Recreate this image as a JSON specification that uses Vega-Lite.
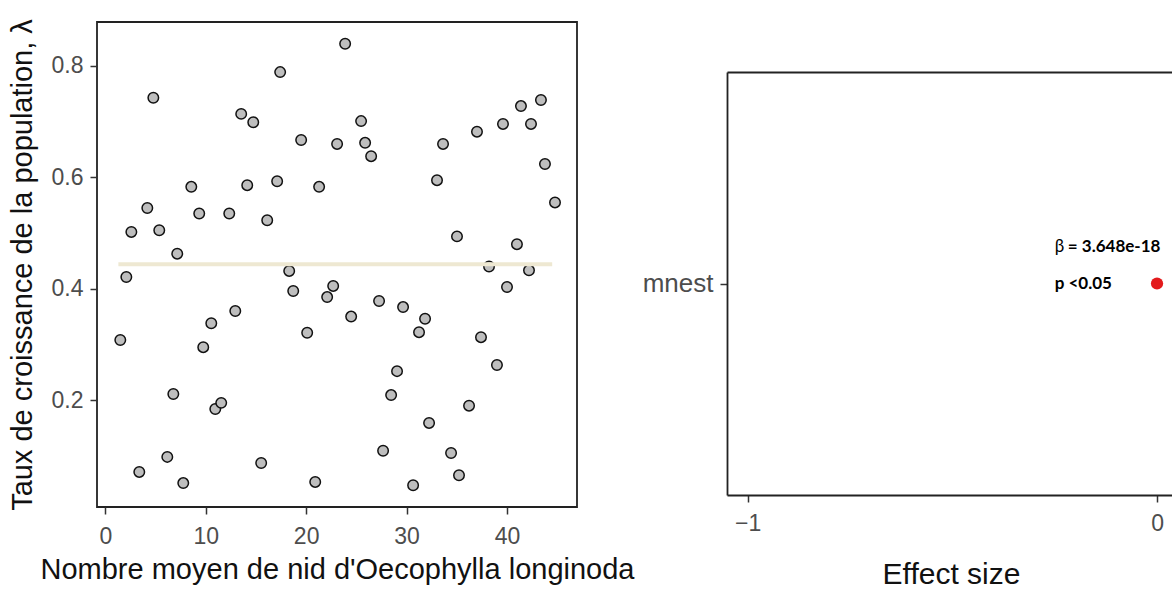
{
  "$schema": "https://vega.github.io/schema/vega-lite/v6.json",
  "padding": {"left": 7, "top": 17, "right": 0, "bottom": 0},
  "background": "white",
  "spacing": 7,
  "config": {
    "font": "Liberation Sans",
    "view": {"stroke": "#222222", "strokeWidth": 1.8},
    "axis": {
      "grid": false,
      "labelFont": "Liberation Sans",
      "titleFont": "Liberation Sans",
      "labelColor": "#4D4D4D",
      "titleColor": "#111111",
      "titleFontWeight": "normal",
      "tickColor": "#333333",
      "tickWidth": 1.5,
      "tickSize": 7,
      "domainColor": "#222222",
      "domainWidth": 1.8,
      "labelFontSize": 23,
      "titleFontSize": 29
    }
  },
  "hconcat": [
    {
      "width": 480,
      "height": 485,
      "layer": [
        {
          "data": {"values": [
            {"nests": 1.49, "lambda": 0.308}, {"nests": 2.09, "lambda": 0.421}, {"nests": 2.59, "lambda": 0.502},
            {"nests": 3.38, "lambda": 0.071}, {"nests": 4.18, "lambda": 0.545}, {"nests": 4.78, "lambda": 0.743},
            {"nests": 5.37, "lambda": 0.505}, {"nests": 6.17, "lambda": 0.098}, {"nests": 6.77, "lambda": 0.211},
            {"nests": 7.16, "lambda": 0.463}, {"nests": 7.76, "lambda": 0.051}, {"nests": 8.56, "lambda": 0.583},
            {"nests": 9.35, "lambda": 0.535}, {"nests": 9.75, "lambda": 0.295}, {"nests": 10.55, "lambda": 0.338},
            {"nests": 10.95, "lambda": 0.184}, {"nests": 11.54, "lambda": 0.195}, {"nests": 12.34, "lambda": 0.535},
            {"nests": 12.94, "lambda": 0.36}, {"nests": 13.53, "lambda": 0.714}, {"nests": 14.13, "lambda": 0.586},
            {"nests": 14.73, "lambda": 0.699}, {"nests": 15.52, "lambda": 0.087}, {"nests": 16.12, "lambda": 0.523},
            {"nests": 17.11, "lambda": 0.593}, {"nests": 17.41, "lambda": 0.789}, {"nests": 18.31, "lambda": 0.432},
            {"nests": 18.71, "lambda": 0.396}, {"nests": 19.5, "lambda": 0.667}, {"nests": 20.1, "lambda": 0.321},
            {"nests": 20.9, "lambda": 0.053}, {"nests": 21.29, "lambda": 0.583}, {"nests": 22.09, "lambda": 0.385},
            {"nests": 22.69, "lambda": 0.405}, {"nests": 23.08, "lambda": 0.66}, {"nests": 23.88, "lambda": 0.84},
            {"nests": 24.48, "lambda": 0.35}, {"nests": 25.47, "lambda": 0.701}, {"nests": 25.87, "lambda": 0.662},
            {"nests": 26.47, "lambda": 0.638}, {"nests": 27.26, "lambda": 0.378}, {"nests": 27.66, "lambda": 0.109},
            {"nests": 28.46, "lambda": 0.209}, {"nests": 29.05, "lambda": 0.252}, {"nests": 29.65, "lambda": 0.367},
            {"nests": 30.65, "lambda": 0.047}, {"nests": 31.24, "lambda": 0.322}, {"nests": 31.84, "lambda": 0.346},
            {"nests": 32.24, "lambda": 0.159}, {"nests": 33.03, "lambda": 0.595}, {"nests": 33.63, "lambda": 0.66},
            {"nests": 34.43, "lambda": 0.105}, {"nests": 35.02, "lambda": 0.494}, {"nests": 35.22, "lambda": 0.065},
            {"nests": 36.22, "lambda": 0.19}, {"nests": 37.01, "lambda": 0.682}, {"nests": 37.41, "lambda": 0.313},
            {"nests": 38.21, "lambda": 0.44}, {"nests": 39.0, "lambda": 0.263}, {"nests": 39.6, "lambda": 0.696},
            {"nests": 40.0, "lambda": 0.403}, {"nests": 40.99, "lambda": 0.48}, {"nests": 41.39, "lambda": 0.728},
            {"nests": 42.19, "lambda": 0.433}, {"nests": 42.39, "lambda": 0.696}, {"nests": 43.38, "lambda": 0.739},
            {"nests": 43.78, "lambda": 0.624}, {"nests": 44.78, "lambda": 0.555}
          ]},
          "mark": {"type": "circle", "fill": "#BEBEBE", "stroke": "#111111", "strokeWidth": 1.5, "opacity": 1, "size": 110},
          "encoding": {
            "x": {
              "field": "nests", "type": "quantitative",
              "scale": {"domain": [-0.83, 46.97], "nice": false, "zero": false},
              "axis": {
                "values": [0, 10, 20, 30, 40],
                "domain": false,
                "labelPadding": 11,
                "titlePadding": 7,
                "title": "Nombre moyen de nid d'Oecophylla longinoda"
              }
            },
            "y": {
              "field": "lambda", "type": "quantitative",
              "scale": {"domain": [0.008, 0.879], "nice": false, "zero": false},
              "axis": {
                "values": [0.2, 0.4, 0.6, 0.8],
                "format": ".1f",
                "domain": false,
                "labelPadding": 7,
                "titlePadding": 14,
                "title": "Taux de croissance de la population, λ"
              }
            }
          }
        },
        {
          "data": {"values": [
            {"nests": 1.3, "lambda": 0.444},
            {"nests": 44.5, "lambda": 0.444}
          ]},
          "mark": {"type": "line", "color": "#EEE8D2", "strokeWidth": 4},
          "encoding": {
            "x": {"field": "nests", "type": "quantitative"},
            "y": {"field": "lambda", "type": "quantitative"}
          }
        }
      ]
    },
    {
      "spacing": 46,
      "vconcat": [
        {
          "width": 445,
          "height": 1,
          "view": {"stroke": null},
          "data": {"values": [{"spacer": 1}]},
          "mark": {"type": "point", "opacity": 0}
        },
        {
          "width": 445,
          "height": 423,
          "view": {"stroke": null},
          "resolve": {"axis": {"x": "independent"}},
          "layer": [
            {
              "data": {"values": [{"term": "mnest", "estimate": 0}]},
              "mark": {"type": "circle", "color": "#E31A1C", "opacity": 1, "size": 150},
              "encoding": {
                "x": {
                  "field": "estimate", "type": "quantitative",
                  "scale": {"domain": [-1.0505, 0.0366], "nice": false, "zero": false},
                  "axis": {
                    "orient": "bottom",
                    "values": [-1, 0],
                    "format": "d",
                    "labelPadding": 10,
                    "titlePadding": 24,
                    "titleFontSize": 30,
                    "titleX": 224,
                    "titleAnchor": null,
                    "titleAlign": "center",
                    "title": "Effect size"
                  }
                },
                "y": {
                  "field": "term", "type": "nominal",
                  "axis": {"title": null, "labelFontSize": 26, "labelPadding": 7}
                }
              }
            },
            {
              "data": {"values": [{"term": "mnest", "estimate": -0.25, "label": "p <0.05"}]},
              "mark": {"type": "text", "align": "left", "baseline": "middle", "font": "Lato", "fontWeight": "bold", "fontSize": 17, "color": "#000000"},
              "encoding": {
                "x": {
                  "field": "estimate", "type": "quantitative",
                  "axis": {"orient": "top", "labels": false, "ticks": false, "title": null}
                },
                "y": {"field": "term", "type": "nominal"},
                "text": {"field": "label"}
              }
            },
            {
              "data": {"values": [{"term": "mnest", "estimate": -0.25, "label": "β"}]},
              "mark": {"type": "text", "align": "left", "baseline": "middle", "font": "Lato", "fontWeight": "normal", "fontSize": 17, "color": "#000000", "dy": -37},
              "encoding": {
                "x": {"field": "estimate", "type": "quantitative", "axis": null},
                "y": {"field": "term", "type": "nominal"},
                "text": {"field": "label"}
              }
            },
            {
              "data": {"values": [{"term": "mnest", "estimate": -0.218, "label": "= 3.648e-18"}]},
              "mark": {"type": "text", "align": "left", "baseline": "middle", "font": "Lato", "fontWeight": "bold", "fontSize": 17, "color": "#000000", "dy": -37},
              "encoding": {
                "x": {"field": "estimate", "type": "quantitative", "axis": null},
                "y": {"field": "term", "type": "nominal"},
                "text": {"field": "label"}
              }
            }
          ]
        }
      ]
    }
  ]
}
